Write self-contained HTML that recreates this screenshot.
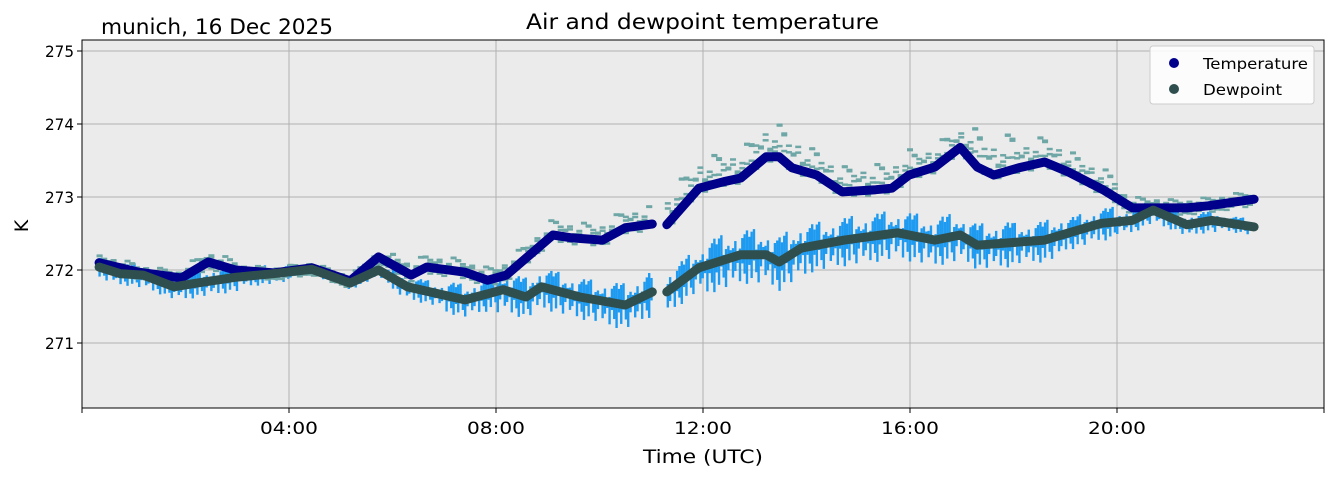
<!DOCTYPE html>
<html><head><meta charset="utf-8"><style>
body{margin:0;background:#fff;}
svg{display:block;font-family:"DejaVu Sans","Liberation Sans",sans-serif;}
</style></head><body>
<svg id="chart" width="1335" height="478" viewBox="0 0 1335 478">
<rect x="0" y="0" width="1335" height="478" fill="#fff"/>
<rect x="82" y="40" width="1242" height="368" fill="#ebebeb"/>
<g id="grid"></g>
<g id="rawdew"></g>
<g id="rawtemp"></g>
<g id="series"></g>
<rect x="82" y="40" width="1242" height="368" fill="none" stroke="#000" stroke-width="1"/>
<g id="axes"></g>
<text x="526" y="29" font-size="21" textLength="353" lengthAdjust="spacingAndGlyphs">Air and dewpoint temperature</text>
<text x="101" y="34" font-size="21" textLength="232" lengthAdjust="spacingAndGlyphs">munich, 16 Dec 2025</text>
<text x="643" y="463" font-size="19" textLength="120" lengthAdjust="spacingAndGlyphs">Time (UTC)</text>
<text x="28" y="226" font-size="19" text-anchor="middle" transform="rotate(-90 28 226)">K</text>
<g>
<rect x="1150" y="46" width="164" height="58" rx="3" fill="#fff" fill-opacity="0.85" stroke="#ccc"/>
<circle cx="1174" cy="63" r="5" fill="#00008b"/>
<text x="1203" y="69" font-size="15.5" textLength="105" lengthAdjust="spacingAndGlyphs">Temperature</text>
<circle cx="1174" cy="89" r="5" fill="#2f4f4f"/>
<text x="1203" y="95" font-size="15.5" textLength="79" lengthAdjust="spacingAndGlyphs">Dewpoint</text>
</g>
</svg>
<script>
const tempHours=[0.33,1.1,1.92,2.44,2.96,3.7,4.44,5.18,5.73,6.36,6.66,7.4,7.84,8.2,9.1,9.47,10.06,10.5,11.02,null,11.3,11.92,12.4,12.73,13.22,13.47,13.72,14.2,14.69,15.34,15.65,15.98,16.48,16.97,17.3,17.62,18.1,18.6,19.07,19.73,20.3,20.7,21.35,21.76,22.65];
const tempValues=[272.10,271.97,271.89,272.11,272.00,271.96,272.03,271.85,272.18,271.93,272.04,271.97,271.86,271.93,272.48,272.44,272.41,272.58,272.63,null,272.62,273.12,273.21,273.26,273.55,273.55,273.40,273.30,273.07,273.10,273.12,273.30,273.41,273.68,273.41,273.30,273.40,273.48,273.34,273.10,272.85,272.85,272.85,272.88,272.97];
const dewHours=[0.33,0.74,1.18,1.78,2.22,2.96,3.7,4.44,5.18,5.73,6.29,7.4,8.14,8.58,8.88,9.62,10.5,11.02,null,11.3,11.92,12.73,13.22,13.47,13.9,14.73,15.76,16.48,16.97,17.3,18.6,19.07,19.7,20.3,20.7,21.35,21.83,22.65];
const dewValues=[272.04,271.95,271.93,271.77,271.82,271.90,271.95,272.01,271.82,272.00,271.77,271.59,271.73,271.63,271.77,271.63,271.52,271.70,null,271.70,272.03,272.21,272.21,272.11,272.30,272.41,272.51,272.41,272.48,272.34,272.41,272.51,272.64,272.68,272.82,272.62,272.68,272.59];
const dewSpreadByHour=[0.2,0.22,0.25,0.18,0.1,0.12,0.22,0.3,0.38,0.38,0.42,0.4,0.5,0.5,0.45,0.45,0.45,0.42,0.38,0.3,0.22,0.2,0.15,0.12];
const tempSpreadByHour=[0.12,0.1,0.15,0.08,0.08,0.08,0.18,0.18,0.2,0.22,0.25,0.4,0.4,0.45,0.35,0.35,0.3,0.5,0.35,0.3,0.15,0.12,0.12,0.12];
const jitterPattern=[1,0.35,0.8,0.2,0.6,0.95,0.4,0.15,0.7,0.5,0.25,0.9,0.3,0.65];
const xTicks=["04:00","08:00","12:00","16:00","20:00"];
const xTickHours=[4,8,12,16,20];
const yTicks=[271,272,273,274,275];

const NS="http://www.w3.org/2000/svg";
const X=h=>82+h*51.75;
const Y=k=>270-(k-272)*73;
function mk(tag,attrs,parent){const e=document.createElementNS(NS,tag);for(const k in attrs)e.setAttribute(k,attrs[k]);parent.appendChild(e);return e;}
const grid=document.getElementById('grid'),axes=document.getElementById('axes');
xTickHours.forEach((h,i)=>{
 const g=mk('line',{x1:X(h),x2:X(h),y1:40,y2:408,stroke:'#b0b0b0','stroke-width':1},grid);
 
 
 const t=mk('text',{x:X(h)-29,y:434,'font-size':17,textLength:58,lengthAdjust:'spacingAndGlyphs'},axes);t.textContent=xTicks[i];
 
 
});
for(let h=0;h<=24;h+=4){const m=mk('line',{x1:X(h),x2:X(h),y1:408,y2:413,stroke:'#000'},axes);
 
 }
yTicks.forEach(v=>{
 const g=mk('line',{x1:82,x2:1324,y1:Y(v),y2:Y(v),stroke:'#b0b0b0','stroke-width':1},grid);
 
 
 const m=mk('line',{x1:77,x2:82,y1:Y(v),y2:Y(v),stroke:'#000'},axes);
 
 
 const t=mk('text',{x:45,y:Y(v)+6,'font-size':16,textLength:29,lengthAdjust:'spacingAndGlyphs'},axes);t.textContent=v;
 
 
});
function interp(hs,vs,h){for(let i=0;i<hs.length-1;i++){if(hs[i]==null||hs[i+1]==null)continue;if(h>=hs[i]&&h<=hs[i+1]){const f=(h-hs[i])/(hs[i+1]-hs[i]);return vs[i]+f*(vs[i+1]-vs[i]);}}return null;}
const rd=document.getElementById('rawdew'),rt=document.getElementById('rawtemp');
let n=0;
for(let h=0.25;h<=22.95;h+=0.045,n++){
 const p=jitterPattern[n%jitterPattern.length],q=jitterPattern[(n*3+5)%jitterPattern.length];
 const hi=Math.floor(h);
 const d=interp(dewHours,dewValues,h);
 if(d!=null){const s=dewSpreadByHour[hi];
  const l=mk('line',{x1:X(h),x2:X(h),y1:Y(d+s*0.7*q),y2:Y(d-s*0.8*p),stroke:'#1e9bf0','stroke-width':2.4},rd);
  
  }
 const t=interp(tempHours,tempValues,h);
 if(t!=null&&n%2==0){const s=tempSpreadByHour[hi];
  [p,q*0.6,(p+q)/2].forEach((f,j)=>{
   const r=mk('rect',{x:X(h)-3,y:Y(t+s*f-(j==1?0.1:0))-1,width:6,height:2.5,fill:'#6fa7a7'},rt);
   
   
  });}
}
const ser=document.getElementById('series');
function drawSeries(hs,vs,color,name){
 let d='',start=true;
 hs.forEach((h,i)=>{if(h==null){start=true;return;}d+=(start?'M':'L')+X(h).toFixed(1)+' '+Y(vs[i]).toFixed(1)+' ';start=false;});
 const p=mk('path',{d:d,fill:'none',stroke:color,'stroke-width':9,'stroke-linecap':'round','stroke-linejoin':'round'},ser);
 
 
}
drawSeries(tempHours,tempValues,'#00008b','temperature-line');
drawSeries(dewHours,dewValues,'#2f4f4f','dewpoint-line');
</script>
</body></html>
